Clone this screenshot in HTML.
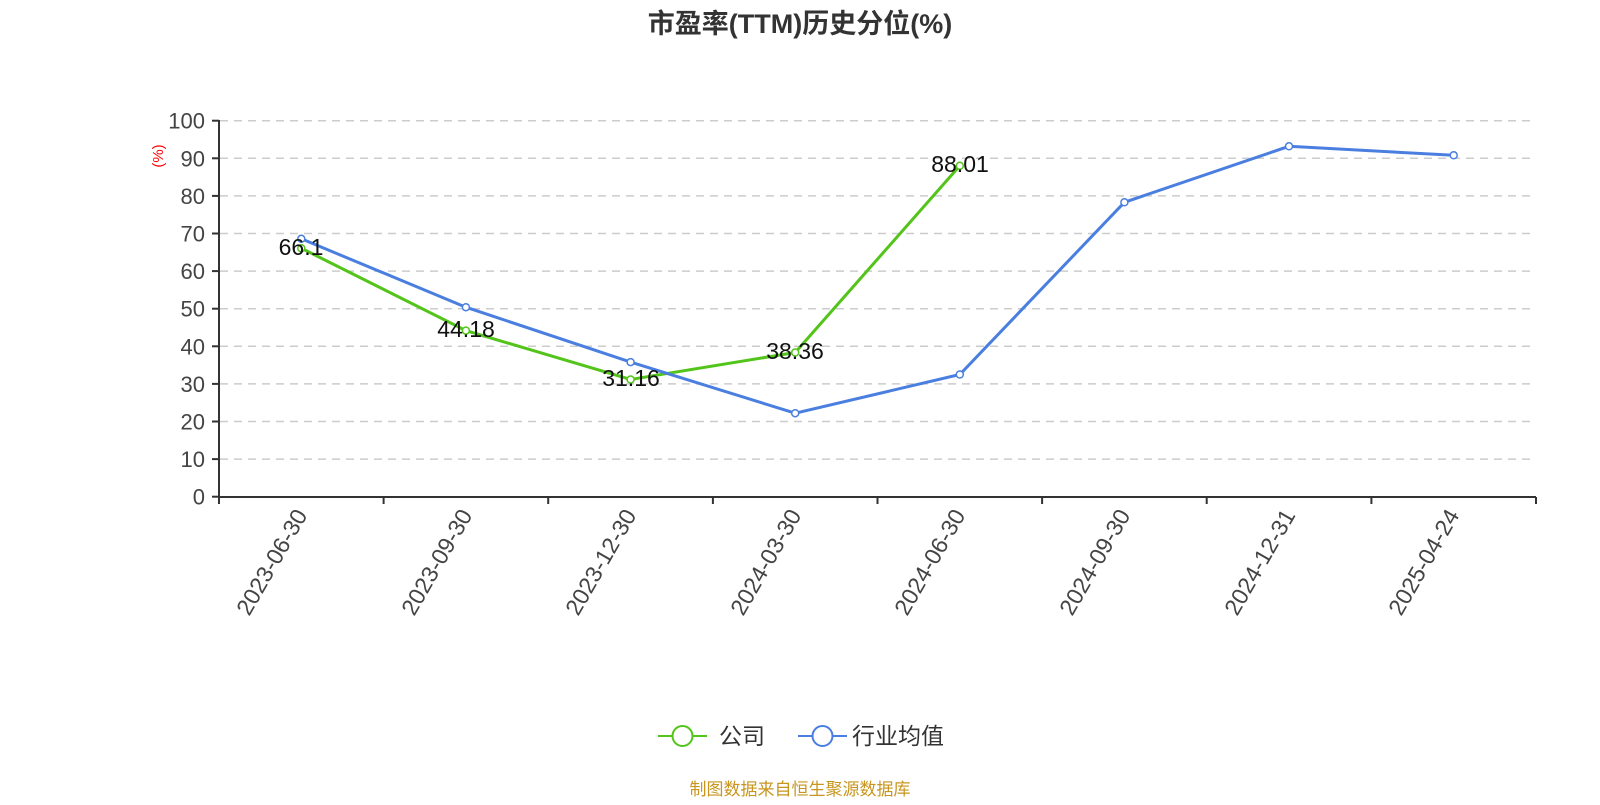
<!DOCTYPE html>
<html><head><meta charset="utf-8"><style>
body{margin:0;background:#fff;}
svg text{font-family:"Liberation Sans","Noto Sans CJK SC",sans-serif;}
</style></head><body>
<svg width="1600" height="800" viewBox="0 0 1600 800" xmlns="http://www.w3.org/2000/svg">
<text x="800" y="33" text-anchor="middle" font-size="27" font-weight="bold" fill="#333">市盈率(TTM)历史分位(%)</text>
<g stroke="#ccc" stroke-width="1.5" stroke-dasharray="8,6">
<line x1="220" x2="1536" y1="120.7" y2="120.7"/><line x1="220" x2="1536" y1="158.3" y2="158.3"/>
<line x1="220" x2="1536" y1="195.9" y2="195.9"/><line x1="220" x2="1536" y1="233.5" y2="233.5"/>
<line x1="220" x2="1536" y1="271.1" y2="271.1"/><line x1="220" x2="1536" y1="308.7" y2="308.7"/>
<line x1="220" x2="1536" y1="346.3" y2="346.3"/><line x1="220" x2="1536" y1="383.9" y2="383.9"/>
<line x1="220" x2="1536" y1="421.5" y2="421.5"/><line x1="220" x2="1536" y1="459.1" y2="459.1"/>
</g>
<g stroke="#333" stroke-width="2">
<line x1="219" y1="120" x2="219" y2="497"/><line x1="219" y1="497" x2="1536" y2="497"/>
<line x1="212" x2="219" y1="120.7" y2="120.7"/><line x1="212" x2="219" y1="158.3" y2="158.3"/><line x1="212" x2="219" y1="195.9" y2="195.9"/><line x1="212" x2="219" y1="233.5" y2="233.5"/><line x1="212" x2="219" y1="271.1" y2="271.1"/><line x1="212" x2="219" y1="308.7" y2="308.7"/><line x1="212" x2="219" y1="346.3" y2="346.3"/><line x1="212" x2="219" y1="383.9" y2="383.9"/><line x1="212" x2="219" y1="421.5" y2="421.5"/><line x1="212" x2="219" y1="459.1" y2="459.1"/><line x1="212" x2="219" y1="496.7" y2="496.7"/>
<line x1="219" x2="219" y1="497" y2="504"/><line x1="383.6" x2="383.6" y1="497" y2="504"/><line x1="548.2" x2="548.2" y1="497" y2="504"/><line x1="712.9" x2="712.9" y1="497" y2="504"/><line x1="877.5" x2="877.5" y1="497" y2="504"/><line x1="1042.1" x2="1042.1" y1="497" y2="504"/><line x1="1206.7" x2="1206.7" y1="497" y2="504"/><line x1="1371.4" x2="1371.4" y1="497" y2="504"/><line x1="1536" x2="1536" y1="497" y2="504"/>
</g>
<g font-size="22" fill="#444" text-anchor="end">
<text x="205" y="128.7">100</text><text x="205" y="166.3">90</text><text x="205" y="203.9">80</text><text x="205" y="241.5">70</text><text x="205" y="279.1">60</text><text x="205" y="316.7">50</text><text x="205" y="354.3">40</text><text x="205" y="391.9">30</text><text x="205" y="429.5">20</text><text x="205" y="467.1">10</text><text x="205" y="504.7">0</text>
</g>
<text transform="translate(163,156) rotate(-90)" text-anchor="middle" font-size="15" fill="red">(%)</text>
<g font-size="23" fill="#444" text-anchor="end">
<text transform="translate(308,515) rotate(-60)">2023-06-30</text>
<text transform="translate(473,515) rotate(-60)">2023-09-30</text>
<text transform="translate(637,515) rotate(-60)">2023-12-30</text>
<text transform="translate(802,515) rotate(-60)">2024-03-30</text>
<text transform="translate(966,515) rotate(-60)">2024-06-30</text>
<text transform="translate(1131,515) rotate(-60)">2024-09-30</text>
<text transform="translate(1296,515) rotate(-60)">2024-12-31</text>
<text transform="translate(1460,515) rotate(-60)">2025-04-24</text>
</g>
<polyline fill="none" stroke="#52c41a" stroke-width="3" points="301.3,248.2 465.9,330.6 630.6,379.5 795.2,352.5 959.8,165.8"/>
<polyline fill="none" stroke="#4a7fe0" stroke-width="3" points="301.3,238.8 465.9,307.2 630.6,362.1 795.2,413.2 959.8,374.5 1124.4,202.3 1289,146.3 1453.7,155.3"/>
<g fill="#fff" stroke="#52c41a" stroke-width="1.5">
<circle cx="301.3" cy="248.2" r="3.5"/><circle cx="465.9" cy="330.6" r="3.5"/><circle cx="630.6" cy="379.5" r="3.5"/><circle cx="795.2" cy="352.5" r="3.5"/><circle cx="959.8" cy="165.8" r="3.5"/>
</g>
<g fill="#fff" stroke="#4a7fe0" stroke-width="1.5">
<circle cx="301.3" cy="238.8" r="3.5"/><circle cx="465.9" cy="307.2" r="3.5"/><circle cx="630.6" cy="362.1" r="3.5"/><circle cx="795.2" cy="413.2" r="3.5"/><circle cx="959.8" cy="374.5" r="3.5"/><circle cx="1124.4" cy="202.3" r="3.5"/><circle cx="1289" cy="146.3" r="3.5"/><circle cx="1453.7" cy="155.3" r="3.5"/>
</g>
<g font-size="23" fill="#111" text-anchor="middle">
<text x="301" y="255">66.1</text><text x="466" y="337">44.18</text><text x="631" y="386">31.16</text><text x="795" y="359">38.36</text><text x="960" y="172">88.01</text>
</g>
<line x1="658" x2="707" y1="736" y2="736" stroke="#52c41a" stroke-width="2"/>
<circle cx="682.5" cy="736" r="10" fill="#fff" stroke="#52c41a" stroke-width="2"/>
<text x="719" y="744" font-size="23" fill="#333">公司</text>
<line x1="798" x2="847" y1="736" y2="736" stroke="#4a7fe0" stroke-width="2"/>
<circle cx="822.5" cy="736" r="10" fill="#fff" stroke="#4a7fe0" stroke-width="2"/>
<text x="852" y="744" font-size="23" fill="#333">行业均值</text>
<text x="800" y="795" text-anchor="middle" font-size="17" fill="#c8961e">制图数据来自恒生聚源数据库</text>
</svg>
</body></html>
